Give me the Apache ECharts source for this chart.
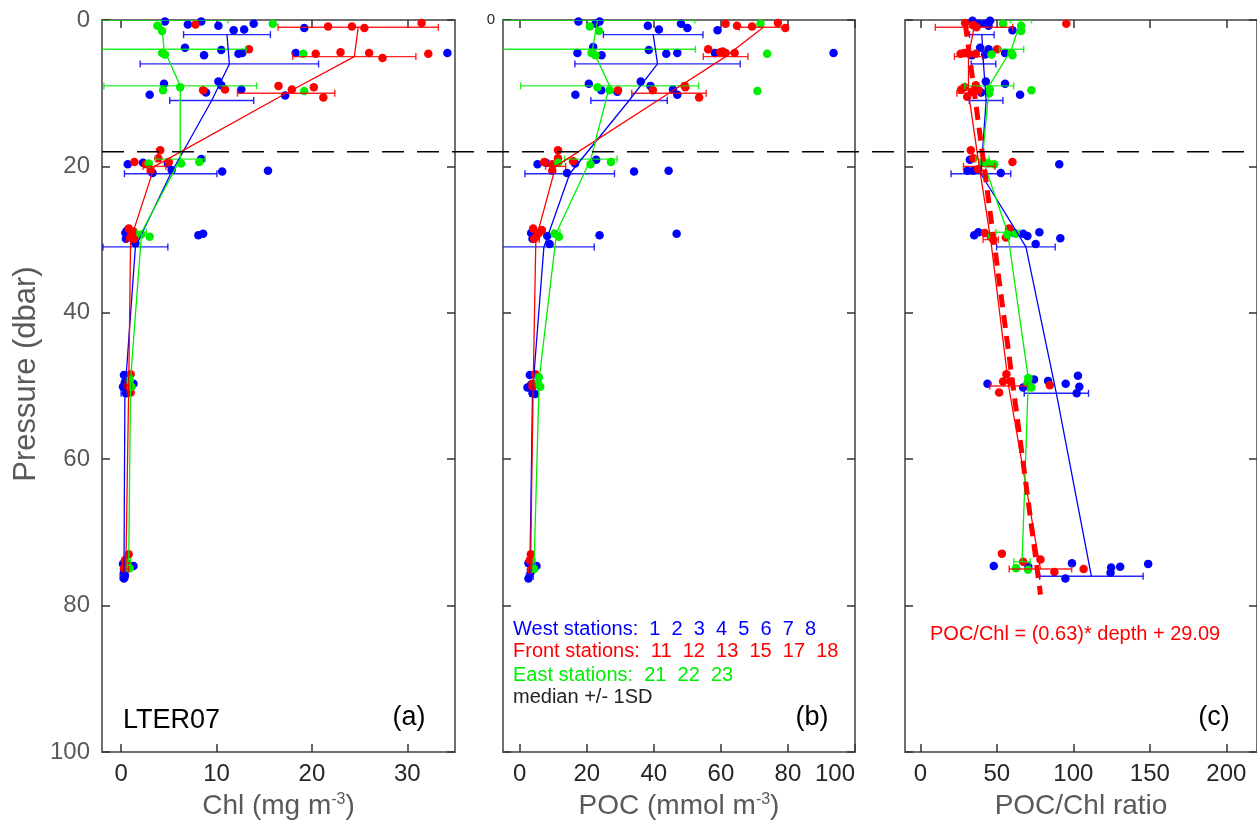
<!DOCTYPE html>
<html>
<head>
<meta charset="utf-8">
<script src="https://cdn.jsdelivr.net/npm/echarts@6/dist/echarts.min.js"></script>
<style>
  html, body { margin: 0; padding: 0; background: #fff; }
  #chart { width: 1257px; height: 826px; }
</style>
</head>
<body>
<div id="chart"></div>
<script>
// ---------- tick labels ----------
const pressureTicks = [0, 20, 40, 60, 80, 100];
const chlTicks = [0, 10, 20, 30];
const pocTicks = [0, 20, 40, 60, 80, 100];
const ratioTicks = [0, 50, 100, 150, 200];

// depth (dbar) at which each group's median / SD is drawn
const depthWest = [2, 6, 11, 21, 31, 51, 76];
const depthFront = [1, 5, 10, 20, 30, 50, 75];
const depthEast = [0, 4, 9, 19, 29, 49, 74];

// ---------- (a) Chl, [value, pressure] ----------
const chlWest = [
  [4.6,0.2],[7.0,0.6],[8.4,0.2],[10.2,0.8],[11.8,1.4],[12.9,1.3],[13.9,0.5],[19.2,1.1],
  [6.7,3.8],[8.7,4.8],[10.5,4.1],[12.3,4.6],[12.7,4.5],[18.3,4.5],[34.2,4.5],
  [4.5,8.7],[3.0,10.2],[10.2,8.4],[10.5,8.9],[8.9,9.9],[12.6,9.5],[17.2,10.3],
  [0.7,19.7],[2.3,19.5],[3.3,20.9],[5.3,20.5],[8.4,19.0],[10.6,20.7],[15.4,20.6],[4.9,19.6],
  [0.45,29.1],[0.5,29.9],[1.5,30.5],[8.1,29.4],[8.6,29.2],[0.6,28.8],
  [0.3,48.5],[0.2,50.1],[0.5,51.0],[1.3,49.7],[0.4,49.5],
  [0.2,74.3],[1.3,74.6],[0.3,76.3],[0.3,75.4],[0.4,75.9]
];
const chlFront = [
  [7.8,0.6],[21.7,0.9],[24.2,0.9],[25.5,1.1],[31.5,0.4],
  [13.4,4.0],[20.4,4.6],[23.0,4.4],[26.0,4.5],[27.4,5.2],[32.2,4.6],
  [8.6,9.6],[10.9,9.5],[16.5,9.0],[17.9,9.5],[20.2,9.2],[21.2,10.6],
  [4.1,17.8],[3.9,18.9],[1.4,19.4],[2.6,19.7],[5.0,19.4],[3.1,20.6],
  [0.8,28.5],[1.3,28.9],[1.0,29.7],[1.4,29.9],[1.1,29.3],
  [1.0,48.4],[0.7,50.0],[1.0,50.9],[0.8,49.3],
  [0.8,73.0],[0.4,73.8],[0.3,74.9],[0.6,74.2]
];
const chlEast = [
  [3.8,0.8],[4.3,1.5],[15.9,0.5],
  [4.3,4.5],[4.6,4.7],[19.1,4.6],
  [4.4,9.6],[6.2,9.2],[19.2,9.7],
  [2.9,19.6],[6.3,19.6],[8.2,19.4],
  [2.1,29.3],[3.0,29.6],
  [0.9,49.2],[1.1,50.1],
  [0.9,74.9]
];
const chlWestMed = [11.1, 11.35, 9.5, 5.2, 1.5, 0.4, 0.3];
const chlWestSd = [4.55, 9.35, 4.4, 4.85, 3.4, 0.4, 0.4];
const chlFrontMed = [24.85, 24.45, 17.3, 3.5, 1.0, 0.8, 0.5];
const chlFrontSd = [8.4, 6.45, 5.1, 1.2, 0.4, 0.3, 0.3];
const chlEastMed = [4.2, 4.5, 6.2, 6.2, 2.15, 1.0, 0.8];
const chlEastSd = [7.0, 8.6, 8.0, 2.6, 0.5, 0.2, 0.2];

// ---------- (b) POC ----------
const pocWest = [
  [17.5,0.2],[22.6,0.5],[23.8,0.2],[38.2,0.8],[41.5,1.3],[48.1,0.5],[50.0,1.1],[59.0,1.4],
  [21.9,3.7],[17.2,4.5],[24.4,4.8],[38.5,4.1],[43.7,4.6],[47.0,4.5],[58.2,4.5],[93.6,4.5],
  [20.6,8.7],[16.6,10.2],[24.3,9.6],[29.1,9.8],[36.1,8.4],[39.0,9.0],[45.7,9.5],[47.0,10.2],
  [5.3,19.7],[7.8,19.5],[14.1,20.9],[16.5,19.6],[22.8,19.1],[34.1,20.7],[44.4,20.6],
  [3.4,29.1],[3.8,29.9],[8.2,29.5],[8.9,30.6],[23.8,29.4],[46.8,29.2],
  [3.0,48.5],[2.3,50.2],[3.8,51.0],[4.6,51.1],[3.4,49.8],
  [2.6,74.2],[5.0,74.6],[2.6,76.3],[3.3,75.4]
];
const pocFront = [
  [61.4,0.5],[64.8,0.8],[69.3,0.9],[77.0,0.4],[79.2,1.1],
  [56.2,4.0],[59.8,4.4],[61.4,4.5],[64.1,4.5],[60.5,4.3],
  [29.3,9.6],[39.7,9.6],[49.2,9.0],[49.4,9.2],[53.5,10.6],
  [11.4,17.8],[11.4,18.9],[7.3,19.4],[9.7,19.7],[15.9,19.3],[9.7,20.6],
  [4.0,28.5],[6.6,28.7],[4.9,29.6],[5.7,29.1],[4.3,29.9],
  [4.6,48.4],[3.8,49.7],[3.8,50.1],
  [3.3,73.0],[3.0,73.8],[3.3,75.1]
];
const pocEast = [
  [20.9,0.9],[23.6,1.5],[71.8,0.5],
  [21.4,4.5],[22.6,4.8],[73.8,4.6],
  [23.2,9.2],[26.8,9.6],[70.9,9.7],
  [11.5,19.5],[21.1,19.7],[27.2,19.4],
  [10.4,29.2],[11.7,29.6],
  [5.7,48.8],[6.1,50.1],[5.5,49.7],
  [4.3,75.0]
];
const pocWestMed = [39.8, 41.1, 32.6, 14.9, 7.2, 3.8, 3.0];
const pocWestSd = [14.85, 24.65, 11.4, 13.35, 15.0, 0.8, 1.0];
const pocFrontMed = [72.7, 61.4, 44.5, 10.7, 4.8, 4.0, 3.2];
const pocFrontSd = [7.25, 6.65, 11.1, 3.0, 1.0, 0.5, 0.3];
const pocEastMed = [23.2, 21.7, 26.8, 21.2, 11.0, 5.8, 4.3];
const pocEastSd = [29.0, 30.7, 26.55, 7.85, 1.0, 0.4, 0.3];

// ---------- (c) POC/Chl ratio ----------
const ratioWest = [
  [34.1,0.1],[38.5,0.5],[42.4,0.5],[45.6,0.1],[44.6,0.8],[60.2,1.4],
  [39.1,3.8],[44.6,4.0],[42.4,4.7],[55.4,4.5],[33.7,4.8],
  [42.8,8.4],[55.4,8.7],[39.8,9.9],[65.2,10.2],
  [32.4,19.1],[30.8,20.6],[34.6,20.6],[52.6,20.9],[90.8,19.7],
  [35.2,29.4],[38.0,29.0],[61.3,29.1],[67.2,29.2],[70.0,29.5],[77.8,29.0],[75.4,30.6],[91.5,29.8],
  [43.9,49.7],[67.2,50.2],[74.3,49.1],[83.5,49.3],[95.0,49.7],[103.0,48.6],[103.9,50.1],[102.2,51.0],
  [48.0,74.6],[70.6,74.7],[99.1,74.2],[94.8,76.3],[124.7,74.8],[124.3,75.5],[130.6,74.7],[148.9,74.3]
];
const ratioFront = [
  [29.3,0.4],[34.6,0.7],[36.7,1.0],[95.4,0.5],
  [26.3,4.6],[28.7,4.5],[30.8,4.5],[36.3,4.6],[50.2,4.0],
  [26.7,9.5],[28.9,9.2],[36.3,8.9],[38.0,9.6],[30.6,10.5],[33.7,9.8],
  [33.0,17.8],[34.6,18.9],[37.8,20.4],[60.2,19.4],
  [42.2,29.1],[46.1,29.6],[47.6,30.0],[58.0,28.5],[55.9,29.7],
  [56.3,48.4],[54.1,49.4],[59.1,49.4],[51.5,50.9],[84.6,49.9],
  [53.3,72.9],[67.2,74.0],[78.5,73.7],[87.6,75.4],[106.7,75.0]
];
const ratioEast = [
  [54.1,0.5],[65.9,0.8],[65.9,1.5],
  [46.5,4.7],[59.6,4.5],[60.2,4.8],
  [45.4,9.5],[72.6,9.6],[45.0,10.0],
  [40.6,19.5],[48.3,19.7],[44.5,19.6],
  [46.8,29.5],[56.9,29.3],[62.4,29.2],
  [70.6,48.9],[72.6,50.2],[70.0,49.6],
  [62.6,74.9],[70.4,75.1]
];
const ratioWestMed = [40.2, 41.3, 43.0, 39.6, 69.0, 88.9, 111.8];
const ratioWestSd = [8.05, 8.05, 11.0, 19.5, 19.15, 21.0, 33.8];
const ratioFrontMed = [35.1, 31.5, 31.5, 38.5, 46.0, 57.7, 78.5];
const ratioFrontSd = [25.3, 9.2, 7.6, 10.3, 5.0, 12.3, 20.4];
const ratioEastMed = [65.8, 59.6, 45.0, 40.6, 57.0, 70.6, 66.5];
const ratioEastSd = [6.85, 7.95, 16.0, 4.35, 7.6, 2.0, 5.4];

// linear fit of the front-station ratio against depth
const fitSlope = 0.63;
const fitIntercept = 29.09;
const fitDepthRange = [0.5, 78.5];

// base of the surface mixed layer (dbar)
const mixedLayerDepth = 18;

// ---------- styling ----------
const FONT = '"Liberation Sans", Arial, Helvetica, sans-serif';
const BLUE = '#0000ff', RED = '#ff0000', GREEN = '#00ee00';
const FRAME = '#707070', TICK = '#333333';

const panels = [
  { min: -2, max: 35, ticks: chlTicks, name: 'Chl (mg m{sup|-3})',
    groups: [[chlWest, chlWestMed, chlWestSd, depthWest, BLUE],
             [chlFront, chlFrontMed, chlFrontSd, depthFront, RED],
             [chlEast, chlEastMed, chlEastSd, depthEast, GREEN]] },
  { min: -5, max: 100, ticks: pocTicks, name: 'POC (mmol m{sup|-3})', alignMax: 'right',
    groups: [[pocWest, pocWestMed, pocWestSd, depthWest, BLUE],
             [pocFront, pocFrontMed, pocFrontSd, depthFront, RED],
             [pocEast, pocEastMed, pocEastSd, depthEast, GREEN]] },
  { min: -10, max: 220, ticks: ratioTicks, name: 'POC/Chl ratio',
    groups: [[ratioWest, ratioWestMed, ratioWestSd, depthWest, BLUE],
             [ratioFront, ratioFrontMed, ratioFrontSd, depthFront, RED],
             [ratioEast, ratioEastMed, ratioEastSd, depthEast, GREEN]] }
];

const grids = [
  { left: 102, top: 20, width: 353, height: 732 },
  { left: 503, top: 20, width: 352, height: 732 },
  { left: 905, top: 20, width: 352, height: 732 }
];

const xAxes = [], yAxes = [], series = [];

panels.forEach((p, i) => {
  const tickCommon = { inside: true, length: 8, lineStyle: { color: TICK, width: 1.5 } };
  const lab = { customValues: p.ticks, fontSize: 24, fontFamily: FONT, color: '#262626', margin: 10 };
  if (p.alignMax) lab.alignMaxLabel = p.alignMax;
  xAxes.push({
    type: 'value', gridIndex: i, position: 'bottom', min: p.min, max: p.max,
    axisLine: { show: true, onZero: false, lineStyle: { color: FRAME, width: 2 } },
    axisTick: Object.assign({ customValues: p.ticks }, tickCommon),
    axisLabel: lab,
    splitLine: { show: false },
    name: p.name, nameLocation: 'middle', nameGap: 40,
    nameTextStyle: { fontSize: 28, fontFamily: FONT, color: '#595959',
      rich: { sup: { fontSize: 16, fontFamily: FONT, color: '#595959', verticalAlign: 'top', lineHeight: 16 } } }
  });
  xAxes.push({
    type: 'value', gridIndex: i, position: 'top', min: p.min, max: p.max,
    axisLine: { show: true, onZero: false, lineStyle: { color: FRAME, width: 2 } },
    axisTick: Object.assign({ customValues: p.ticks }, tickCommon),
    axisLabel: { show: false }, splitLine: { show: false }
  });
  const yLeft = {
    type: 'value', gridIndex: i, position: 'left', inverse: true, min: 0, max: 100, interval: 20,
    axisLine: { show: true, onZero: false, lineStyle: { color: FRAME, width: 2 } },
    axisTick: tickCommon, splitLine: { show: false },
    axisLabel: { show: false }
  };
  if (i === 0) {
    yLeft.axisLabel = { show: true, fontSize: 24, fontFamily: FONT, color: '#595959', margin: 12 };
    yLeft.name = 'Pressure (dbar)';
    yLeft.nameLocation = 'middle';
    yLeft.nameGap = 60;
    yLeft.nameTextStyle = { fontSize: 31, fontFamily: FONT, color: '#595959', padding: [0, 0, 0, 24] };
  } else if (i === 1) {
    yLeft.axisLabel = { show: true, fontSize: 15, fontFamily: FONT, color: '#262626', margin: 8,
      formatter: v => (v === pressureTicks[0] ? String(v) : '') };
  }
  yAxes.push(yLeft);
  yAxes.push({
    type: 'value', gridIndex: i, position: 'right', inverse: true, min: 0, max: 100, interval: 20,
    axisLine: { show: true, onZero: false, lineStyle: { color: FRAME, width: 2 } },
    axisTick: tickCommon, axisLabel: { show: false }, splitLine: { show: false }
  });
});

// error bar: horizontal bar median +/- SD with end caps
function errorBarRender(color) {
  return function (params, api) {
    const d = api.value(2);
    const a = api.coord([api.value(0), d]);
    const b = api.coord([api.value(1), d]);
    const cap = 3.5;
    const style = { stroke: color, lineWidth: 1.4, opacity: 0.85 };
    return {
      type: 'group',
      children: [
        { type: 'line', shape: { x1: a[0], y1: a[1], x2: b[0], y2: b[1] }, style },
        { type: 'line', shape: { x1: a[0], y1: a[1] - cap, x2: a[0], y2: a[1] + cap }, style },
        { type: 'line', shape: { x1: b[0], y1: b[1] - cap, x2: b[0], y2: b[1] + cap }, style }
      ]
    };
  };
}

panels.forEach((p, i) => {
  const axes = { xAxisIndex: 2 * i, yAxisIndex: 2 * i };
  p.groups.forEach(g => {
    series.push(Object.assign({
      type: 'scatter', data: g[0], symbolSize: 8.5, itemStyle: { color: g[4], opacity: 1 },
      silent: true, z: 2
    }, axes));
  });
  p.groups.forEach(g => {
    const med = g[1], sd = g[2], dep = g[3];
    series.push(Object.assign({
      type: 'custom', clip: true, z: 3, silent: true,
      data: med.map((m, k) => [m - sd[k], m + sd[k], dep[k]]),
      encode: { x: [0, 1], y: 2 },
      renderItem: errorBarRender(g[4])
    }, axes));
    series.push(Object.assign({
      type: 'line', data: med.map((m, k) => [m, dep[k]]), showSymbol: false, symbol: 'none',
      lineStyle: { color: g[4], width: 1.3 }, z: 4, silent: true
    }, axes));
  });
});

// dashed fit line in panel (c)
series.push({
  type: 'line', xAxisIndex: 4, yAxisIndex: 4, symbol: 'none', z: 5, silent: true,
  data: fitDepthRange.map(d => [fitSlope * d + fitIntercept, d]),
  lineStyle: { color: RED, width: 5, type: [13, 8] }
});

const chart = echarts.init(document.getElementById('chart'), null, { renderer: 'canvas' });
chart.setOption({
  animation: false,
  backgroundColor: '#fff',
  grid: grids,
  xAxis: xAxes,
  yAxis: yAxes,
  series: series
});

// annotations
const yMix = chart.convertToPixel({ xAxisIndex: 0, yAxisIndex: 0 }, [0, mixedLayerDepth])[1];
const xStart = chart.convertToPixel({ xAxisIndex: 0, yAxisIndex: 0 }, [panels[0].min, 0])[0];
const xEnd = chart.convertToPixel({ xAxisIndex: 4, yAxisIndex: 4 }, [panels[2].max, 0])[0];

function label(text, x, y, size, color, align) {
  return { type: 'text', x: x, y: y, z: 10, silent: true,
    style: { text: text, fontSize: size, fontFamily: FONT, fill: color, align: align || 'left', verticalAlign: 'middle' } };
}

chart.setOption({
  graphic: [
    { type: 'line', z: 6, silent: true, shape: { x1: xStart, y1: yMix, x2: xEnd, y2: yMix },
      style: { stroke: '#000', lineWidth: 1.5, lineDash: [22, 13] } },
    label('LTER07', 123, 721, 27, '#000'),
    label('(a)', 409, 718, 27, '#000', 'center'),
    label('(b)', 812, 718, 27, '#000', 'center'),
    label('(c)', 1214, 718, 27, '#000', 'center'),
    label('West stations:  1  2  3  4  5  6  7  8', 513, 629, 20, BLUE),
    label('Front stations:  11  12  13  15  17  18', 513, 651, 20, RED),
    label('East stations:  21  22  23', 513, 675, 20, GREEN),
    label('median +/- 1SD', 513, 697, 20, '#222'),
    label('POC/Chl = (' + fitSlope + ')* depth + ' + fitIntercept, 930, 634, 20, RED)
  ]
});
</script>
</body>
</html>
